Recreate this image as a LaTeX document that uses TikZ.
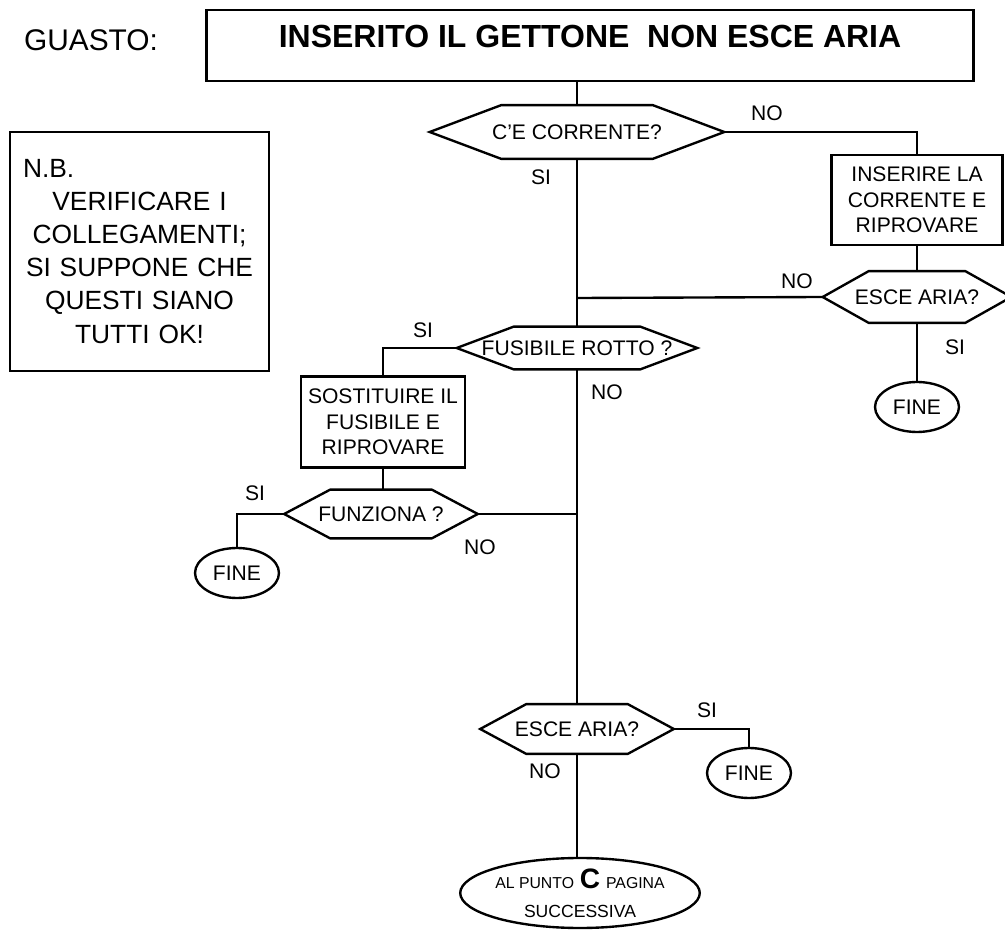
\documentclass[tikz,border=0pt]{standalone}
\usepackage{fontspec}
\setmainfont{Liberation Sans}
\usetikzlibrary{shapes.geometric}

\tikzset{
  every node/.style={font=\fontsize{12}{14.5}\selectfont},
  conn/.style={line width=1.35pt},
  stepbox/.style={draw, line width=1.35pt, rectangle, align=center, inner sep=0pt},
  hexbox/.style={rectangle, inner sep=0pt},
  endbox/.style={draw, line width=1.35pt, ellipse, inner sep=0pt, minimum width=1.68cm, minimum height=1cm},
  lbl/.style={inner sep=0pt}
}

% outline of a decision node: name, length of the pointed ends
\newcommand{\hexout}[2]{\draw[line width=1.35pt] (#1.west) -- ([xshift=#2]#1.north west) -- ([xshift=-#2]#1.north east)
  -- (#1.east) -- ([xshift=-#2]#1.south east) -- ([xshift=#2]#1.south west) -- cycle;}

\begin{document}
\begin{tikzpicture}[x=0.02cm, y=-0.02cm]
            \useasboundingbox (0,0) rectangle (1005,932);

            % Heading
            \node[lbl, font=\fontsize{17}{20}\selectfont] (guasto) at (91,40) {GUASTO:};
            \node[stepbox, minimum width=15.34cm, minimum height=1.42cm, text height=0.45cm, text depth=0.37cm,
                  font=\fontsize{18.2}{21}\selectfont\bfseries] (titolo) at (590,45.5) {INSERITO IL GETTONE\ \ NON ESCE ARIA};

            % Note box
            \node[stepbox, minimum width=5.18cm, minimum height=4.78cm, text width=4.66cm,
                  font=\fontsize{15}{18.8}\selectfont] (nota) at (139.5,251.5)
                  {N.B.\hfill\null\\ VERIFICARE I\\ COLLEGAMENTI;\\ SI SUPPONE CHE\\ QUESTI SIANO\\ TUTTI OK!};

            % First check
            \node[hexbox, minimum width=5.88cm, minimum height=1.06cm] (corrente) at (577,132) {C’E CORRENTE?};
            \hexout{corrente}{1.43cm}
            \node[stepbox, minimum width=3.42cm, minimum height=1.8cm] (inserire) at (917,200)
                  {INSERIRE LA\\ CORRENTE E\\ RIPROVARE};
            \node[hexbox, minimum width=3.76cm, minimum height=1.02cm] (escea) at (917,297) {ESCE ARIA?};
            \hexout{escea}{0.92cm}
            \node[endbox] (finea) at (917,407) {FINE};

            % Fuse
            \node[hexbox, minimum width=4.8cm, minimum height=0.84cm] (fusibile) at (577,348) {FUSIBILE ROTTO ?};
            \hexout{fusibile}{1.14cm}
            \node[stepbox, minimum width=3.28cm, minimum height=1.82cm] (sostituire) at (383,422)
                  {SOSTITUIRE IL\\ FUSIBILE E\\ RIPROVARE};
            \node[hexbox, minimum width=3.86cm, minimum height=0.96cm] (funziona) at (381,514) {FUNZIONA ?};
            \hexout{funziona}{0.92cm}
            \node[endbox] (fineb) at (237,573) {FINE};

            % Last check
            \node[hexbox, minimum width=3.86cm, minimum height=0.98cm] (esceb) at (577,729) {ESCE ARIA?};
            \hexout{esceb}{0.92cm}
            \node[endbox] (finec) at (749,773) {FINE};
            \node[draw, line width=1.35pt, ellipse, inner sep=0pt, minimum width=4.38cm, minimum height=1.4cm,
                  align=center] (punto) at (580,893)
                  {{\fontsize{9}{10}\selectfont AL PUNTO} {\fontsize{16}{16}\selectfont\bfseries C}
                   {\fontsize{9}{10}\selectfont PAGINA}\\[2pt] {\fontsize{10}{12}\selectfont SUCCESSIVA}};

            % Junctions on the main line
            \coordinate (ja) at (577,298);
            \coordinate (jb) at (577,514);

            % Connectors
            \draw[conn] (corrente.north |- titolo.south) -- (corrente.north);
            \draw[conn] (corrente.east) -| (inserire.north);
            \draw[conn] (inserire.south) -- (escea.north);
            \draw[conn] (escea.west) -- (ja);
            \draw[conn] (escea.south) -- (finea.north);
            \draw[conn] (corrente.south) -- (fusibile.north);
            \draw[conn] (fusibile.west) -| (sostituire.north);
            \draw[conn] (sostituire.south) -- (sostituire.south |- funziona.north);
            \draw[conn] (funziona.west) -| (fineb.north);
            \draw[conn] (funziona.east) -- (jb);
            \draw[conn] (fusibile.south) -- (esceb.north);
            \draw[conn] (esceb.east) -| (finec.north);
            \draw[conn] (esceb.south) -- (esceb.south |- punto.north);

            % Answers
            \node[lbl] (noa) at (767,113) {NO};
            \node[lbl] (sia) at (541,177) {SI};
            \node[lbl] (nob) at (797,281) {NO};
            \node[lbl] (sib) at (955,347) {SI};
            \node[lbl] (sic) at (423,330) {SI};
            \node[lbl] (noc) at (607,392) {NO};
            \node[lbl] (sid) at (255,493) {SI};
            \node[lbl] (nod) at (480,547) {NO};
            \node[lbl] (sie) at (707,710) {SI};
            \node[lbl] (noe) at (545,771) {NO};

\end{tikzpicture}
\end{document}
